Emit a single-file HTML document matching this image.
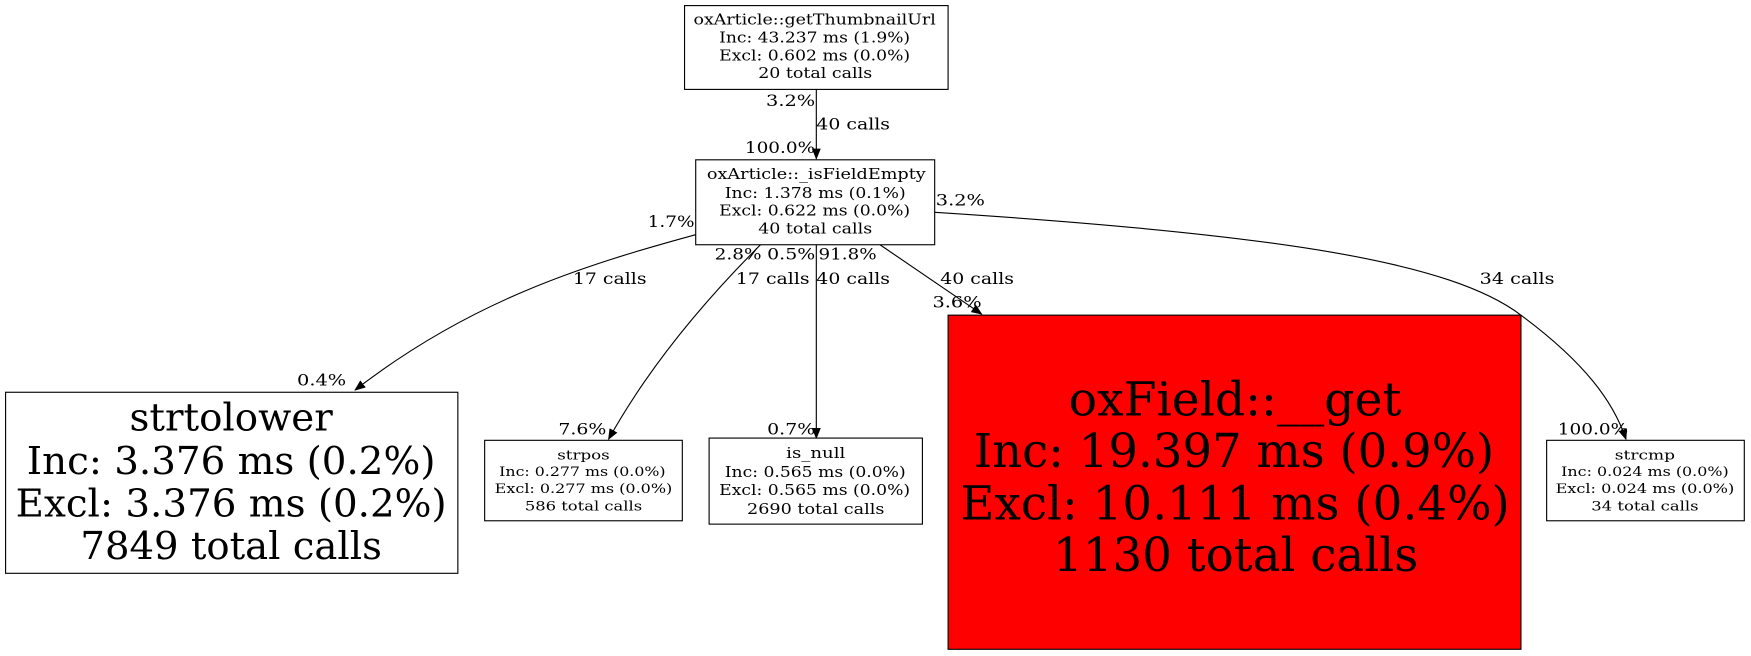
<!DOCTYPE html>
<html><head><meta charset="utf-8"><style>
html,body{margin:0;padding:0;background:#fff;width:1751px;height:656px;overflow:hidden}
text{font-family:"DejaVu Serif","Liberation Serif",serif;fill:#000}
</style></head><body>
<svg width="1751" height="656" viewBox="0 0 1568 587" preserveAspectRatio="none" xmlns="http://www.w3.org/2000/svg">
<defs><marker id="a" markerWidth="10" markerHeight="8" refX="9" refY="4" orient="auto" markerUnits="userSpaceOnUse"><path d="M0,0 L10,4 L0,8 Z" fill="#000"/></marker></defs>
<rect width="1568" height="587" fill="#fff"/>
<g fill="none" stroke="#000" stroke-width="1">
<path d="M731,80 L731,142" marker-end="url(#a)"/>
<path d="M623,210 C520,238 420,270 318,349" marker-end="url(#a)"/>
<path d="M681,219 C630,270 580,330 545,393" marker-end="url(#a)"/>
<path d="M731,219 L731,392" marker-end="url(#a)"/>
<path d="M788,219 L879,281" marker-end="url(#a)"/>
<path d="M837,190 C1150,210 1300,235 1362,282 C1420,325 1445,360 1456,393" marker-end="url(#a)"/>
</g>
<g stroke="#000" stroke-width="1">
<rect x="613" y="5" width="236" height="75" fill="#fff"/>
<rect x="623" y="143" width="214" height="76" fill="#fff"/>
<rect x="5" y="351" width="405" height="162" fill="#fff"/>
<rect x="434" y="394" width="177" height="72" fill="#fff"/>
<rect x="635" y="392" width="191" height="77" fill="#fff"/>
<rect x="849" y="282" width="513" height="299" fill="#ff0000"/>
<rect x="1385" y="394" width="177" height="72" fill="#fff"/>
</g>
<g font-size="13" lengthAdjust="spacingAndGlyphs">
<text x="621" y="22" textLength="217" lengthAdjust="spacingAndGlyphs">oxArticle::getThumbnailUrl</text>
<text x="644" y="38" textLength="171" lengthAdjust="spacingAndGlyphs">Inc: 43.237 ms (1.9%)</text>
<text x="644" y="54" textLength="171" lengthAdjust="spacingAndGlyphs">Excl: 0.602 ms (0.0%)</text>
<text x="679" y="70" textLength="102" lengthAdjust="spacingAndGlyphs">20 total calls</text>
<text x="633" y="160" textLength="196" lengthAdjust="spacingAndGlyphs">oxArticle::_isFieldEmpty</text>
<text x="649" y="177" textLength="162" lengthAdjust="spacingAndGlyphs">Inc: 1.378 ms (0.1%)</text>
<text x="644" y="193" textLength="171" lengthAdjust="spacingAndGlyphs">Excl: 0.622 ms (0.0%)</text>
<text x="679" y="209" textLength="102" lengthAdjust="spacingAndGlyphs">40 total calls</text>
<text x="704" y="410" textLength="53" lengthAdjust="spacingAndGlyphs">is_null</text>
<text x="649" y="427" textLength="162" lengthAdjust="spacingAndGlyphs">Inc: 0.565 ms (0.0%)</text>
<text x="644" y="443" textLength="171" lengthAdjust="spacingAndGlyphs">Excl: 0.565 ms (0.0%)</text>
<text x="669" y="460" textLength="123" lengthAdjust="spacingAndGlyphs">2690 total calls</text>
</g>
<g font-size="11.5">
<text x="499" y="411" textLength="47" lengthAdjust="spacingAndGlyphs">strpos</text>
<text x="447" y="426" textLength="149" lengthAdjust="spacingAndGlyphs">Inc: 0.277 ms (0.0%)</text>
<text x="443" y="441" textLength="159" lengthAdjust="spacingAndGlyphs">Excl: 0.277 ms (0.0%)</text>
<text x="470" y="457" textLength="105" lengthAdjust="spacingAndGlyphs">586 total calls</text>
<text x="1446" y="411" textLength="54" lengthAdjust="spacingAndGlyphs">strcmp</text>
<text x="1398" y="426" textLength="150" lengthAdjust="spacingAndGlyphs">Inc: 0.024 ms (0.0%)</text>
<text x="1393" y="441" textLength="160" lengthAdjust="spacingAndGlyphs">Excl: 0.024 ms (0.0%)</text>
<text x="1425" y="457" textLength="96" lengthAdjust="spacingAndGlyphs">34 total calls</text>
</g>
<g font-size="34">
<text x="116" y="385" textLength="182" lengthAdjust="spacingAndGlyphs">strtolower</text>
<text x="24" y="424" textLength="366" lengthAdjust="spacingAndGlyphs">Inc: 3.376 ms (0.2%)</text>
<text x="14" y="462" textLength="386" lengthAdjust="spacingAndGlyphs">Excl: 3.376 ms (0.2%)</text>
<text x="72" y="500" textLength="270" lengthAdjust="spacingAndGlyphs">7849 total calls</text>
</g>
<g font-size="42">
<text x="957" y="372" textLength="298" lengthAdjust="spacingAndGlyphs">oxField::__get</text>
<text x="872" y="418" textLength="466" lengthAdjust="spacingAndGlyphs">Inc: 19.397 ms (0.9%)</text>
<text x="860" y="465" textLength="492" lengthAdjust="spacingAndGlyphs">Excl: 10.111 ms (0.4%)</text>
<text x="943" y="511" textLength="327" lengthAdjust="spacingAndGlyphs">1130 total calls</text>
</g>
<g font-size="14">
<text x="686" y="95" textLength="44" lengthAdjust="spacingAndGlyphs">3.2%</text>
<text x="731" y="116" textLength="66" lengthAdjust="spacingAndGlyphs">40 calls</text>
<text x="667" y="137" textLength="63" lengthAdjust="spacingAndGlyphs">100.0%</text>
<text x="580" y="203" textLength="42" lengthAdjust="spacingAndGlyphs">1.7%</text>
<text x="838" y="184" textLength="44" lengthAdjust="spacingAndGlyphs">3.2%</text>
<text x="640" y="232" textLength="42" lengthAdjust="spacingAndGlyphs">2.8%</text>
<text x="687" y="232" textLength="43" lengthAdjust="spacingAndGlyphs">0.5%</text>
<text x="733" y="232" textLength="52" lengthAdjust="spacingAndGlyphs">91.8%</text>
<text x="513" y="254" textLength="66" lengthAdjust="spacingAndGlyphs">17 calls</text>
<text x="659" y="254" textLength="66" lengthAdjust="spacingAndGlyphs">17 calls</text>
<text x="731" y="254" textLength="66" lengthAdjust="spacingAndGlyphs">40 calls</text>
<text x="842" y="254" textLength="66" lengthAdjust="spacingAndGlyphs">40 calls</text>
<text x="1325" y="254" textLength="67" lengthAdjust="spacingAndGlyphs">34 calls</text>
<text x="835" y="275" textLength="44" lengthAdjust="spacingAndGlyphs">3.6%</text>
<text x="266" y="345" textLength="44" lengthAdjust="spacingAndGlyphs">0.4%</text>
<text x="500" y="389" textLength="43" lengthAdjust="spacingAndGlyphs">7.6%</text>
<text x="687" y="389" textLength="43" lengthAdjust="spacingAndGlyphs">0.7%</text>
<text x="1395" y="389" textLength="63" lengthAdjust="spacingAndGlyphs">100.0%</text>
</g>
</svg>
</body></html>
